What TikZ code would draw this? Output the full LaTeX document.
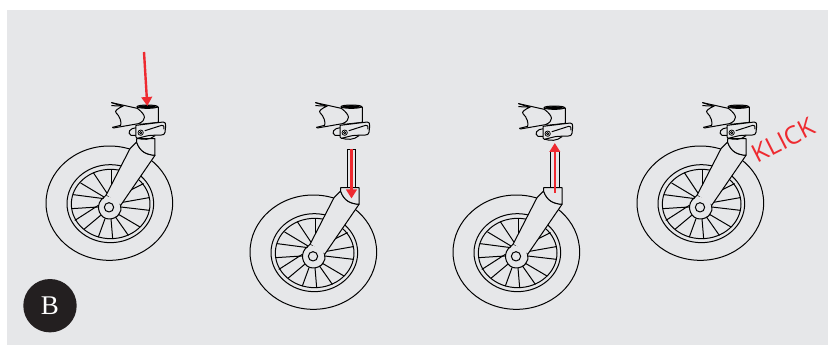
\documentclass[tikz,border=0pt]{standalone}
\usepackage{fontspec}
\setmainfont{Liberation Serif}
\newfontfamily\klickfont{Open Sans}
\usetikzlibrary{arrows.meta}
\definecolor{panel}{HTML}{E6E7E9}
\definecolor{mark}{HTML}{EE2A30}
\definecolor{badge}{HTML}{231F20}
\tikzset{
  ink/.style={draw=black,line width=1pt,line join=round,line cap=round},
  thin ink/.style={draw=black,line width=0.75pt},
  rod/.style={draw=black,line width=1pt},
  zoomframe/.style={x=0.3333pt,y=-0.3333pt,shift={(-237,-500)}},
  redarrow/.style={draw=mark,line width=2.4pt,-{Triangle[length=9pt,width=10.5pt]}},
  wheel/.pic={
    \begin{scope}[zoomframe]
      \path[ink] (238,488.5) ellipse [x radius=190,y radius=171.5];
      \path[ink] (241,490) ellipse [x radius=130,y radius=117];
      \path[ink] (242,491) ellipse [x radius=118,y radius=104];
      \foreach \a/\b/\c/\d in {130/463/222/475,152/428/222/470,190/397/232/460,244/388/244/445,268/390/255/420,340/430/300/450,357/472/272/487,358/510/272/500,330/560/262/520,295/585/255/528,248/595/243/535,205/590/225/535,163/566/212/525,135/540/205/495,125/505/203/500}
        \path[ink] (\a,\b) -- (\c,\d);
      % fork
      \path[ink,fill=panel] (228,465) -- (300,325) -- (320,305) .. controls (330,335) and (350,343) .. (375,345) -- (272,495) -- cycle;
      \path[ink,fill=panel] (320,306) -- (320,295) -- (375,295) -- (375,345) .. controls (350,343) and (330,335) .. (320,306) -- cycle;
      % hub
      \path[fill=panel] (237,503) circle [radius=33];
      \path[fill=panel] (228,465) -- (272,495) -- (250,500) -- (225,490) -- cycle;
      \path[ink] (214,478) .. controls (195,500) and (210,536) .. (237,536) .. controls (262,536) and (278,515) .. (272,495);
      \path[ink] (228,465) -- (214,478);
      \path[ink] (237,501) circle [radius=14];
    \end{scope}
  },
  head/.pic={
    \begin{scope}[zoomframe]
      % tube
      \path[ink,fill=panel] (322,200) -- (385,200) -- (385,246) -- (330,252) -- (322,205) -- cycle;
      \path[fill=black] (352,199) ellipse [x radius=25,y radius=4.5];
      \path[ink] (352,199) ellipse [x radius=31,y radius=5];
      % handle body
      \path[fill=panel] (245,187) -- (322,205) .. controls (350,225) and (350,240) .. (325,250) -- (248,262) -- (272,255) .. controls (275,245) and (270,228) .. (258,217) .. controls (253,212) and (262,205) .. (280,197) -- cycle;
      \path[ink] (245,187) -- (322,204);
      \path[ink] (245,187) -- (275,197);
      \path[ink] (245,196) -- (280,197) .. controls (262,205) and (253,212) .. (258,217) .. controls (270,228) and (275,245) .. (272,255) -- (248,261);
      \path[ink] (248,261) -- (250,263) -- (325,250);
      \path[ink] (322,204) .. controls (350,225) and (350,240) .. (325,250);
      % side loop
      \path[ink,fill=panel] (320,262) .. controls (300,262) and (290,278) .. (303,285) -- (320,285);
      % clamp
      \path[ink,fill=panel] (318,255) -- (400,245) .. controls (406,245) and (408,250) .. (407,258) -- (405,276) .. controls (404,282) and (400,284) .. (394,284) -- (362,285) .. controls (350,286) and (340,290) .. (322,294) -- (318,290) -- cycle;
      \path[ink] (345,271) -- (395,255) .. controls (401,253) and (403,258) .. (402,266);
      \path[ink] (325,294) .. controls (340,299) and (360,299) .. (375,286);
      \path[thin ink] (332,277) circle [radius=8];
      \path[thin ink] (332,277) circle [radius=3.5];
    \end{scope}
  }
}
\begin{document}
\begin{tikzpicture}[x=1pt,y=-1pt]
  \useasboundingbox (0,0) rectangle (832,347);
  \fill[white] (0,0) rectangle (832,347);
  \fill[panel] (7,10) rectangle (828,345);

  \pic at (109,207) {wheel};
  \pic at (109,207) {head};

  \pic at (313,256) {wheel};
  \pic at (313,207) {head};
  \draw[rod] (347.5,186.7) -- (347.5,150) -- (355.5,150) -- (355.5,186.7);
  \path[redarrow] (351.5,149) -- (351.5,198.5);

  \pic at (516,256) {wheel};
  \pic at (516,208) {head};
  \draw[rod] (550.7,188) -- (550.7,152) -- (559,152) -- (559,188);
  \path[redarrow] (554.8,193) -- (554.8,143);

  \pic at (700,207) {wheel};
  \pic at (700,207) {head};

  \path[redarrow] (144,52) -- (147.3,106);

  \node[text=mark,rotate=27,font=\klickfont\fontsize{25}{25}\selectfont,inner sep=0pt] (klick) at (783.5,140) {KLICK};
  \node[circle,fill=badge,minimum size=53.4pt,inner sep=0pt,text=white,font=\fontsize{27}{27}\selectfont] (badgeB) at (50,305.7) {B};
\end{tikzpicture}
\end{document}
